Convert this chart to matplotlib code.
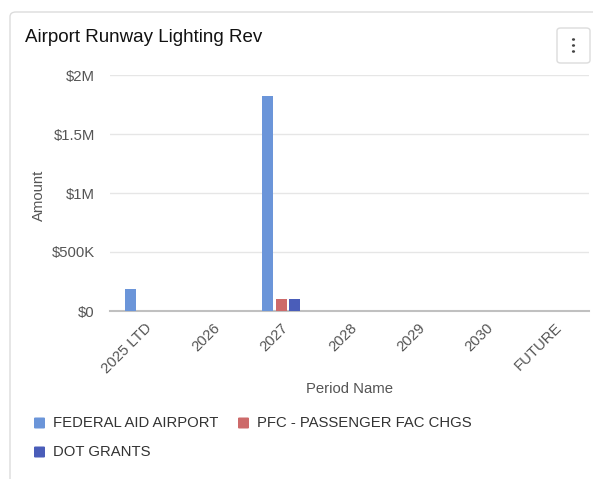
import matplotlib
matplotlib.use("Agg")
import matplotlib.pyplot as plt
from matplotlib.patches import FancyBboxPatch
import numpy as np

plt.rcParams['font.family'] = ['Liberation Sans', 'DejaVu Sans']

categories = ["2025 LTD", "2026", "2027", "2028", "2029", "2030", "FUTURE"]
series_names = ["FEDERAL AID AIRPORT", "PFC - PASSENGER FAC CHGS", "DOT GRANTS"]
federal = [185000, 0, 1825000, 0, 0, 0, 0]
pfc = [3000, 0, 100000, 0, 0, 0, 0]
dot = [3000, 0, 100000, 0, 0, 0, 0]
colors = ["#6b95d9", "#cd6a6a", "#4a5db9"]
y_ticks = [0, 500000, 1000000, 1500000, 2000000]
y_tick_labels = ["$0", "$500K", "$1M", "$1.5M", "$2M"]

W, H = 593, 479
fig = plt.figure(figsize=(W / 100, H / 100), dpi=100)

def fx(x):
    return x / W

def fy(y):
    return 1 - y / H

FS = 10.7

# card border
card = FancyBboxPatch((fx(10), fy(520)), fx(640), 520 / H - 12 / H,
                      boxstyle="round,pad=0,rounding_size=0.01",
                      transform=fig.transFigure, facecolor="white",
                      edgecolor="#dcdcdc", linewidth=1.0, zorder=-10)
fig.patches.append(card)

# menu button
btn = FancyBboxPatch((fx(557), fy(63)), fx(33), 35 / H,
                     boxstyle="round,pad=0,rounding_size=0.006",
                     transform=fig.transFigure, facecolor="white",
                     edgecolor="#dcdcdc", linewidth=1.0, zorder=-5)
fig.patches.append(btn)
for yy in [39.5, 45.5, 51.5]:
    fig.patches.append(matplotlib.patches.Circle((fx(573.5), fy(yy)), 1.6 / W,
                       transform=fig.transFigure, facecolor="#444", edgecolor="none"))

fig.text(fx(25), fy(38), "Airport Runway Lighting Rev", fontsize=13.5,
         color="#111111", va="center", ha="left")

ax = fig.add_axes([fx(110), fy(311), (589 - 110) / W, (311 - 75) / H], zorder=2)
x = np.arange(len(categories))
bw = 0.16
off = 0.195
for i, (vals, c, name) in enumerate(zip([federal, pfc, dot], colors, series_names)):
    ax.bar(x + (i - 1) * off, vals, width=bw, color=c, label=name, zorder=3,
           edgecolor="none")

ax.set_xlim(-0.5, len(categories) - 0.5)
ax.set_ylim(0, 2000000)
ax.set_yticks(y_ticks)
ax.set_yticklabels(y_tick_labels)
ax.grid(axis="y", color="#e6e6e6", linewidth=1.0, zorder=0)
for s in ["top", "right", "left"]:
    ax.spines[s].set_visible(False)
ax.spines["bottom"].set_color("#c0c0c0")
ax.spines["bottom"].set_linewidth(1.5)
ax.tick_params(axis="y", length=0, pad=11, labelsize=FS, labelcolor="#555555")
ax.tick_params(axis="x", length=0, pad=7, labelsize=FS, labelcolor="#555555")
ax.set_xticks(x)
ax.set_xticklabels(categories, rotation=45, ha="right", rotation_mode="anchor")
ax.set_facecolor("none")

fig.text(fx(39), fy(195), "Amount", rotation=90, fontsize=FS, color="#555555",
         ha="center", va="center")
fig.text(fx(349), fy(389), "Period Name", fontsize=FS, color="#555555",
         ha="center", va="center")

# legend
leg_items = [(34, 423, 0), (238, 423, 1), (34, 452, 2)]
for lx, ly, i in leg_items:
    fig.patches.append(FancyBboxPatch((fx(lx), fy(ly + 5.5)), 11 / W, 11 / H,
                       boxstyle="round,pad=0,rounding_size=0.002",
                       transform=fig.transFigure, facecolor=colors[i], edgecolor="none"))
    fig.text(fx(lx + 19), fy(ly), series_names[i], fontsize=FS, color="#333333",
             ha="left", va="center")

fig.savefig("out.png", dpi=100)
